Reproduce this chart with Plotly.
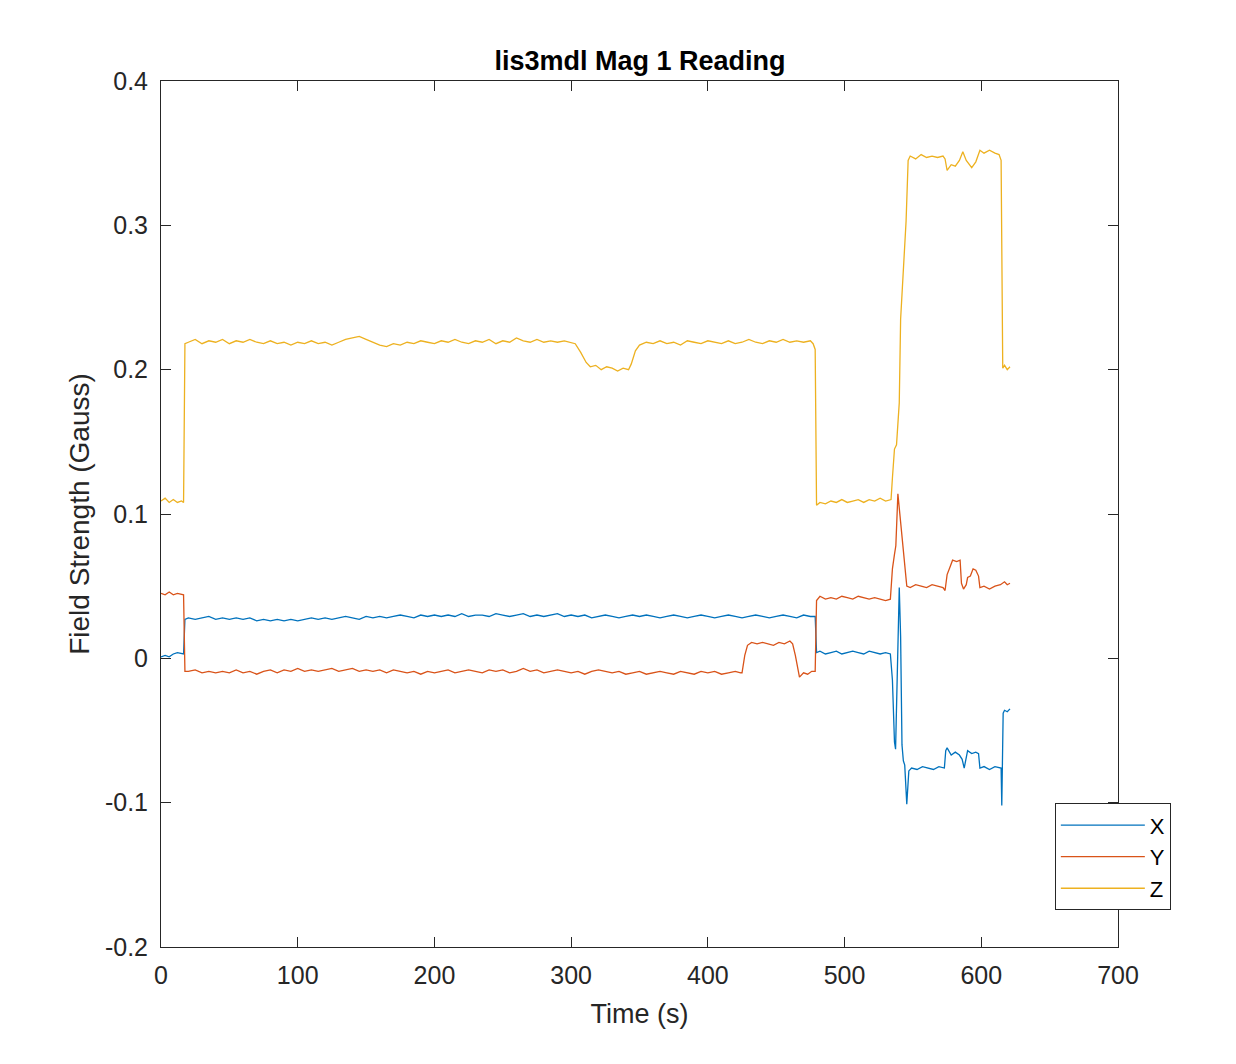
import plotly.graph_objects as go

# Time (s) and field readings (Gauss)
x_time = [0, 3, 6, 9, 12, 15, 16.5, 17.5,
          20, 25, 30, 35, 40, 45, 50, 55, 60, 65, 70, 75, 80, 85, 90, 95, 100,
          105, 110, 115, 120, 125, 130, 135, 140, 145, 150, 155, 160, 165, 170, 175, 180,
          185, 190, 195, 200, 205, 210, 215, 220, 225, 230, 235, 240, 245, 250, 255, 260,
          265, 270, 275, 280, 285, 290, 295, 300, 305, 310, 315, 320, 325, 330, 335, 340,
          345, 350, 355, 360, 365, 370, 375, 380, 385, 390, 395, 400, 405, 410, 415, 420,
          425, 430, 435, 440, 445, 450, 455, 460, 465, 470, 475, 478.5,
          479.5, 482, 486, 490, 494, 498, 502, 506, 510, 514, 518, 522, 526, 530, 533.5,
          535, 536.5, 537.3, 538.3, 539, 540, 541, 542, 543, 544, 545.5, 547, 549,
          553, 557, 561, 565, 569, 573, 574, 575, 578, 581, 584, 586, 587.5, 589, 590,
          593, 596, 598, 599, 602, 606, 610, 613, 614.5, 615, 616, 617, 619, 621]
x_field = [0.001, 0.002, 0.001, 0.003, 0.004, 0.003, 0.003, 0.027,
           0.028, 0.027, 0.028, 0.029, 0.027, 0.028, 0.027, 0.028, 0.027, 0.028, 0.026, 0.027, 0.026, 0.027, 0.026, 0.027, 0.026,
           0.027, 0.028, 0.027, 0.028, 0.027, 0.028, 0.029, 0.028, 0.027, 0.029, 0.028, 0.029, 0.028, 0.029, 0.030, 0.029,
           0.028, 0.030, 0.029, 0.030, 0.029, 0.030, 0.029, 0.031, 0.029, 0.030, 0.030, 0.029, 0.031, 0.030, 0.029, 0.030,
           0.031, 0.029, 0.030, 0.029, 0.030, 0.031, 0.029, 0.030, 0.029, 0.030, 0.028, 0.029, 0.030, 0.029, 0.028, 0.029,
           0.030, 0.029, 0.030, 0.029, 0.028, 0.029, 0.030, 0.029, 0.028, 0.029, 0.030, 0.029, 0.028, 0.029, 0.030, 0.029,
           0.028, 0.029, 0.030, 0.029, 0.028, 0.029, 0.030, 0.029, 0.028, 0.030, 0.029, 0.029,
           0.004, 0.005, 0.003, 0.004, 0.005, 0.003, 0.004, 0.005, 0.004, 0.003, 0.005, 0.004, 0.003, 0.004, 0.003,
           -0.015, -0.058, -0.063, -0.020, 0.020, 0.049, 0.015, -0.060, -0.071, -0.074, -0.101, -0.078, -0.076,
           -0.077, -0.075, -0.076, -0.077, -0.075, -0.076, -0.064, -0.062, -0.067, -0.065, -0.067, -0.070, -0.076, -0.067, -0.064,
           -0.066, -0.065, -0.066, -0.076, -0.075, -0.077, -0.075, -0.076, -0.076, -0.102, -0.038, -0.036, -0.037, -0.035]

y_time = [0, 3, 6, 9, 12, 15, 16.5, 17.5,
          20, 25, 30, 35, 40, 45, 50, 55, 60, 65, 70, 75, 80, 85, 90, 95, 100,
          105, 110, 115, 120, 125, 130, 135, 140, 145, 150, 155, 160, 165, 170, 175, 180,
          185, 190, 195, 200, 205, 210, 215, 220, 225, 230, 235, 240, 245, 250, 255, 260,
          265, 270, 275, 280, 285, 290, 295, 300, 305, 310, 315, 320, 325, 330, 335, 340,
          345, 350, 355, 360, 365, 370, 375, 380, 385, 390, 395, 400, 405, 410, 415, 420, 424,
          425, 427, 429, 432, 436, 440, 444, 448, 452, 456, 460, 462, 464, 467, 470, 473, 476, 478.5,
          479.5, 482, 486, 490, 494, 498, 502, 506, 510, 514, 518, 522, 526, 530, 533.5,
          535, 536.5, 537.5, 539, 540.5, 541.5, 542.5, 544, 545.5, 548, 552, 556, 560, 564, 568, 572,
          573.5, 575, 577, 579, 582, 584.5, 585.5, 587, 589, 590, 592, 594, 596, 598, 599,
          602, 606, 610, 614, 617, 619, 621]
y_field = [0.045, 0.044, 0.046, 0.044, 0.045, 0.044, 0.044, -0.009,
           -0.009, -0.008, -0.010, -0.009, -0.010, -0.009, -0.010, -0.008, -0.010, -0.009, -0.011, -0.009, -0.008, -0.010, -0.008, -0.009, -0.007,
           -0.009, -0.008, -0.009, -0.008, -0.007, -0.009, -0.008, -0.007, -0.009, -0.008, -0.009, -0.008, -0.010, -0.008, -0.009, -0.010,
           -0.009, -0.011, -0.009, -0.010, -0.009, -0.008, -0.010, -0.009, -0.008, -0.009, -0.010, -0.008, -0.009, -0.008, -0.010, -0.009,
           -0.007, -0.009, -0.008, -0.010, -0.009, -0.008, -0.009, -0.010, -0.009, -0.011, -0.009, -0.008, -0.009, -0.010, -0.009, -0.011,
           -0.010, -0.009, -0.011, -0.010, -0.009, -0.010, -0.011, -0.009, -0.010, -0.011, -0.009, -0.010, -0.009, -0.011, -0.010, -0.009, -0.010,
           -0.010, 0.002, 0.009, 0.011, 0.010, 0.011, 0.010, 0.009, 0.011, 0.010, 0.012, 0.010, 0.002, -0.013, -0.010, -0.011, -0.009, -0.009,
           0.040, 0.043, 0.041, 0.042, 0.041, 0.043, 0.042, 0.041, 0.043, 0.042, 0.041, 0.042, 0.041, 0.040, 0.041,
           0.062, 0.072, 0.078, 0.114, 0.100, 0.091, 0.082, 0.065, 0.050, 0.049, 0.051, 0.050, 0.049, 0.051, 0.050, 0.049,
           0.047, 0.058, 0.063, 0.068, 0.067, 0.068, 0.052, 0.048, 0.051, 0.056, 0.057, 0.062, 0.061, 0.057, 0.049,
           0.050, 0.048, 0.050, 0.051, 0.053, 0.051, 0.052]

z_time = [0, 3, 6, 9, 12, 15, 16.5, 17.5,
          20, 25, 30, 35, 40, 45, 50, 55, 60, 65, 70, 75, 80, 85, 90, 95, 100,
          105, 110, 115, 120, 125, 130, 135, 140, 145, 150, 155, 160, 165, 170, 175, 180,
          185, 190, 195, 200, 205, 210, 215, 220, 225, 230, 235, 240, 245, 250, 255, 260,
          265, 270, 275, 280, 285, 290, 295, 300,
          303, 307, 311, 314, 318, 322, 326, 330, 334, 338, 342, 344, 347, 350,
          355, 360, 365, 370, 375, 380, 385, 390, 395, 400, 405, 410, 415, 420, 425, 430,
          435, 440, 445, 450, 455, 460, 465, 470, 475, 477, 478.5,
          479.5, 482, 486, 490, 494, 498, 502, 506, 510, 514, 518, 522, 526, 530, 534,
          535, 536.5, 538, 540, 541, 543.5, 545, 546.5, 548, 552, 556, 560, 564, 568, 572,
          573.5, 575, 578, 581, 584, 586.5, 589, 593, 596, 599, 602, 606, 610, 613, 614.5,
          615.7, 617, 619, 621]
z_field = [0.109, 0.111, 0.108, 0.110, 0.108, 0.109, 0.108, 0.218,
           0.219, 0.221, 0.218, 0.220, 0.219, 0.221, 0.218, 0.220, 0.219, 0.221, 0.219, 0.218, 0.220, 0.218, 0.219, 0.217, 0.219,
           0.218, 0.220, 0.218, 0.219, 0.217, 0.219, 0.221, 0.222, 0.223, 0.221, 0.219, 0.217, 0.216, 0.218, 0.217, 0.219,
           0.218, 0.220, 0.219, 0.218, 0.220, 0.219, 0.221, 0.219, 0.218, 0.220, 0.219, 0.221, 0.218, 0.220, 0.219, 0.222,
           0.220, 0.219, 0.221, 0.219, 0.220, 0.219, 0.220, 0.219,
           0.218, 0.212, 0.205, 0.202, 0.203, 0.200, 0.202, 0.201, 0.199, 0.201, 0.200, 0.204, 0.213, 0.217,
           0.219, 0.218, 0.220, 0.218, 0.219, 0.217, 0.220, 0.219, 0.218, 0.220, 0.219, 0.218, 0.220, 0.218, 0.219, 0.221,
           0.219, 0.218, 0.220, 0.219, 0.221, 0.219, 0.220, 0.219, 0.220, 0.218, 0.214,
           0.106, 0.108, 0.107, 0.109, 0.108, 0.110, 0.108, 0.109, 0.110, 0.108, 0.110, 0.109, 0.111, 0.109, 0.110,
           0.125, 0.145, 0.148, 0.177, 0.235, 0.280, 0.303, 0.345, 0.348, 0.346, 0.349, 0.347, 0.348, 0.347, 0.348,
           0.346, 0.338, 0.342, 0.341, 0.345, 0.351, 0.345, 0.340, 0.344, 0.352, 0.350, 0.352, 0.350, 0.349, 0.345,
           0.201, 0.203, 0.200, 0.202]

series_names = ["X", "Y", "Z"]
series_colors = ["#0072BD", "#D95319", "#EDB120"]

x_ticks = [0, 100, 200, 300, 400, 500, 600, 700]
y_ticks = [-0.2, -0.1, 0, 0.1, 0.2, 0.3, 0.4]
y_tick_text = ["-0.2", "-0.1", "0", "0.1", "0.2", "0.3", "0.4"]

FONT = "Liberation Sans, Arial, Helvetica, sans-serif"
AXIS_COLOR = "#262626"


def build_figure():
    fig = go.Figure()
    data = [(x_time, x_field), (y_time, y_field), (z_time, z_field)]
    for (t, v), name, color in zip(data, series_names, series_colors):
        fig.add_trace(go.Scatter(x=t, y=v, mode="lines", name=name,
                                 line=dict(color=color, width=1.3)))

    axis_style = dict(
        showgrid=False, zeroline=False,
        showline=True, linecolor=AXIS_COLOR, linewidth=1, mirror="ticks",
        ticks="inside", ticklen=10, tickwidth=1, tickcolor=AXIS_COLOR,
        tickfont=dict(family=FONT, size=25, color=AXIS_COLOR),
    )
    fig.update_xaxes(
        range=[0, 700], tickvals=x_ticks, ticklabelstandoff=6,
        title=dict(text="Time (s)", font=dict(family=FONT, size=27, color=AXIS_COLOR), standoff=16),
        **axis_style
    )
    fig.update_yaxes(
        range=[-0.2, 0.4], tickvals=y_ticks, ticktext=y_tick_text, ticklabelstandoff=7,
        title=dict(text="Field Strength (Gauss)", font=dict(family=FONT, size=28, color=AXIS_COLOR), standoff=7),
        **axis_style
    )

    # page body adds 8px, so the figure is a bit smaller than the window
    fig.update_layout(
        width=1228, height=1056,
        margin=dict(l=153, r=118, t=73, b=117),
        paper_bgcolor="white", plot_bgcolor="white",
        title=dict(text="<b>lis3mdl Mag 1 Reading</b>", x=0.5147, xanchor="center",
                   y=0.9498, yanchor="middle",
                   font=dict(family=FONT, size=27, color="black")),
        showlegend=True,
        legend=dict(x=0.934, y=0.166, xanchor="left", yanchor="top",
                    bgcolor="white", bordercolor=AXIS_COLOR, borderwidth=1,
                    font=dict(family=FONT, size=22, color="black"),
                    itemwidth=84, tracegroupgap=0),
    )
    return fig


def main():
    fig = build_figure()
    fig.write_html("out.html")


if __name__ == "__main__":
    main()
